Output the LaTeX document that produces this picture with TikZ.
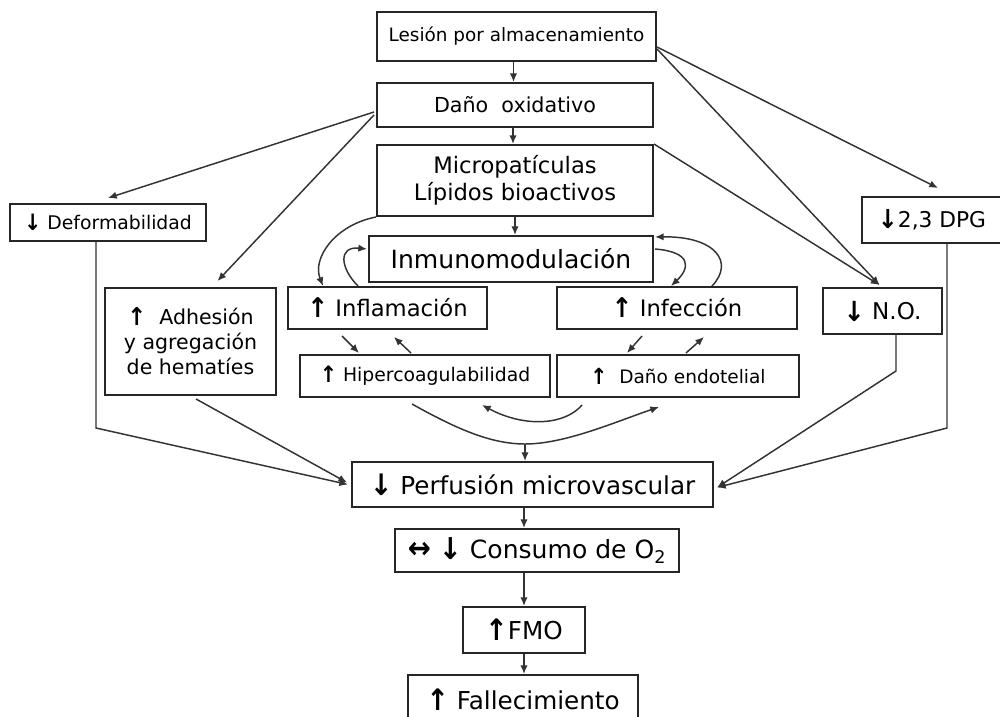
\documentclass[tikz,border=0pt]{standalone}
\usepackage{fontspec}
\setmainfont{DejaVu Sans}
\usetikzlibrary{arrows.meta,calc}
\newcommand{\ua}{\raisebox{-0.05em}{\scalebox{1.1}[1.2]{\bfseries ↑}}}
\newcommand{\da}{\raisebox{-0.05em}{\scalebox{1.1}[1.2]{\bfseries ↓}}}
\newcommand{\lra}{\scalebox{1.1}[1.2]{\bfseries ↔}}
\tikzset{
  box/.style={draw=black!85, line width=1.5pt, inner sep=0pt, align=center, text=black},
  arr/.style={draw=black!80, line width=1.1pt, -{Latex[length=6.5pt,width=5.5pt]}},
}
\begin{document}
\begin{tikzpicture}[x=0.75pt,y=-0.75pt]
\useasboundingbox (0,0) rectangle (1000,717);
\fill[white] (0,0) rectangle (1000,717);
\clip (0,0) rectangle (1000,717);

% boxes
\node[box, minimum width=209.25pt, minimum height=36.75pt, font=\fontsize{13.8}{16}\selectfont] (les) at (516.5,36.5) {Lesión por almacenamiento};
\node[box, minimum width=207pt, minimum height=33pt, font=\fontsize{15.5}{18}\selectfont] (dano) at (515,105) {Daño\ \ oxidativo};
\node[box, minimum width=207pt, minimum height=53.25pt, font=\fontsize{17}{20.25}\selectfont] (micro) at (515,180.5) {Micropatículas\\Lípidos bioactivos};
\node[box, minimum width=147pt, minimum height=27.75pt, font=\fontsize{14.1}{17}\selectfont] (defo) at (108,222.5) {\da\ Deformabilidad};
\node[box, minimum width=213pt, minimum height=34.5pt, font=\fontsize{18.8}{22}\selectfont] (inmu) at (511,259) {Inmunomodulación};
\node[box, minimum width=149.25pt, minimum height=31.5pt, font=\fontsize{17}{20}\selectfont] (infl) at (387.5,308) {\ua\ Inflamación};
\node[box, minimum width=180pt, minimum height=31.5pt, font=\fontsize{17}{20}\selectfont] (infe) at (677,308) {\ua\ Infección};
\node[box, minimum width=128.25pt, minimum height=80.25pt, font=\fontsize{15.4}{18.75}\selectfont] (adhe) at (190.5,341.5) {\ua\ \ Adhesión\\y agregación\\de hematíes};
\node[box, minimum width=89.25pt, minimum height=34.5pt, font=\fontsize{17.3}{20}\selectfont] (no) at (882.5,311) {\da\ N.O.};
\node[box, minimum width=105pt, minimum height=34.5pt, font=\fontsize{16.3}{19}\selectfont] (dpg) at (932,220) {\da2,3 DPG};
\node[box, minimum width=187.5pt, minimum height=31.5pt, font=\fontsize{14.1}{17}\selectfont] (hip) at (425,376) {\ua\ Hipercoagulabilidad};
\node[box, minimum width=181.5pt, minimum height=31.5pt, font=\fontsize{13.9}{17}\selectfont] (endo) at (678,376) {\ua\ \ Daño endotelial};
\node[box, minimum width=270.75pt, minimum height=33.75pt, font=\fontsize{18.5}{22}\selectfont] (perf) at (532.5,484.5) {\da\ Perfusión microvascular};
\node[box, minimum width=213pt, minimum height=32.25pt, font=\fontsize{18.8}{22}\selectfont] (cons) at (537,550.5) {\lra\ \da\ Consumo de O\textsubscript{2}};
\node[box, minimum width=91.5pt, minimum height=34.5pt, font=\fontsize{18.5}{22}\selectfont] (fmo) at (524,630) {\ua FMO};
\node[box, minimum width=172.5pt, minimum height=37.5pt, font=\fontsize{18.5}{22}\selectfont] (fall) at (523,700) {\ua\ Fallecimiento};

% main vertical chain
\draw[arr] ($(les.south)+(-3,0)$) -- ($(les.south |- dano.north)+(-3,0)$);
\draw[arr] ($(dano.south)+(-2,0)$) -- ($(dano.south |- micro.north)+(-2,0)$);
\draw[arr] (micro.south) -- (micro.south |- inmu.north);

% from Lesion
\draw[arr] ($(les.north east)+(0,36)$) -- ($(dpg.north)+(6,-8)$);
\draw[arr] ($(les.north east)+(0,38)$) -- ($(no.north)+(-3,-2)$);
\draw[arr] (micro.north east) -- ($(no.north)+(-3,-2)$);

% from Dano oxidativo
\draw[arr] ($(dano.north west)+(-2,30)$) -- ($(defo.north)+(0,-5)$);
\draw[arr] ($(dano.north west)+(-2,33)$) -- ($(adhe.north)+(27,-6)$);

% loops around Inmunomodulacion
\draw[arr] (micro.south west) .. controls (335,225) and (312,258) .. ($(infl.north west)+(36,0)$);
\draw[arr] ($(infl.north west)+(71,0)$) .. controls (340,268) and (338,246) .. ($(inmu.north west)+(-1,14)$);
\draw[arr] ($(inmu.north east)+(1,14)$) .. controls (692,252) and (690,268) .. ($(infe.north west)+(115,0)$);
\draw[arr] ($(infe.north west)+(156,0)$) .. controls (735,262) and (715,236) .. ($(inmu.north east)+(1,2)$);

% short arrows
\draw[arr] ($(infl.south west)+(55,6)$) -- ($(hip.north west)+(60,-1)$);
\draw[arr] ($(hip.north west)+(112,-1)$) -- ($(infl.south west)+(107,7)$);
\draw[arr] ($(infe.south west)+(86,6)$) -- ($(endo.north west)+(71,-1)$);
\draw[arr] ($(endo.north west)+(130,-1)$) -- ($(infe.south west)+(148,7)$);

% bottom crossing curves
\draw[arr] ($(hip.south west)+(113,6)$) .. controls (455,428) and (490,444) .. (525,444) coordinate (mid)
  .. controls (565,444) and (615,422) .. ($(endo.south west)+(103,9)$);
\draw[arr] ($(endo.south west)+(26,7)$) .. controls (565,425) and (525,428) .. ($(hip.south west)+(183,7)$);
\draw[arr] (mid) -- (mid |- perf.north);

% into Perfusion
\draw[arr] ($(defo.south west)+(87,0)$) -- ++(0,186) -- ($(perf.west)+(-3,0)$);
\draw[arr] ($(adhe.south west)+(92,3)$) -- ($(perf.west)+(-4,-2)$);
\draw[arr] ($(no.south west)+(74,0)$) -- ++(0,36) -- ($(perf.east)+(3,3)$);
\draw[arr] ($(dpg.south west)+(86,0)$) -- ++(0,184) -- ($(perf.east)+(3,3)$);

% bottom chain
\draw[arr] (fmo.center |- perf.south) -- (fmo.center |- cons.north);
\draw[arr] (fmo.center |- cons.south) -- (fmo.north);
\draw[arr] (fmo.south) -- (fmo.south |- fall.north);
\end{tikzpicture}
\end{document}
